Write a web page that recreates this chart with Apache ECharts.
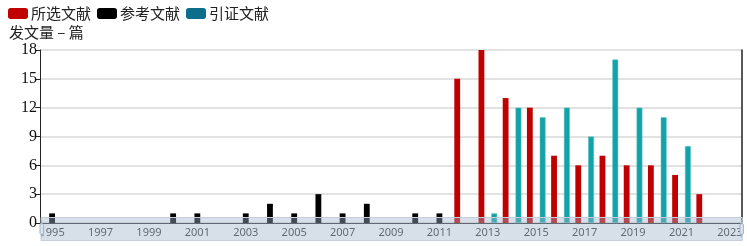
<!DOCTYPE html>
<html>
<head>
<meta charset="utf-8">
<script src="https://cdn.jsdelivr.net/npm/echarts@6/dist/echarts.min.js"></script>
<style>
html,body{margin:0;padding:0;background:#fff;}
#c{width:747px;height:246px;}
</style>
</head>
<body>
<div id="c"></div>
<script>
var years = ["1995","1996","1997","1998","1999","2000","2001","2002","2003","2004","2005","2006","2007","2008","2009","2010","2011","2012","2013","2014","2015","2016","2017","2018","2019","2020","2021","2022","2023"];
var seriesNames = ["所选文献","参考文献","引证文献"];
var selected = [null,null,null,null,null,null,null,null,null,null,null,null,null,null,null,null,null,15,18,13,12,7,6,7,6,6,5,3,null];
var references = [1,null,null,null,null,1,1,null,1,2,1,3,1,2,null,1,1,null,null,null,null,null,null,null,null,null,null,null,null];
var citations = [null,null,null,null,null,null,null,null,null,null,null,null,null,null,null,null,null,null,1,12,11,12,9,17,12,11,8,null,null];
var yTicks = [0,3,6,9,12,15,18];
var yName = "发文量 – 篇";

var chart = echarts.init(document.getElementById('c'), null, {renderer:'canvas'});
var cjk = '"Noto Sans CJK SC", sans-serif';
chart.setOption({
  animation:false,
  backgroundColor:'#fff',
  title:{text:yName,left:4,top:20,textStyle:{fontFamily:cjk,fontSize:15,fontWeight:'normal',color:'#222'}},
  legend:{
    left:3, top:1, itemWidth:20, itemHeight:11, itemGap:6, icon:'roundRect',
    textStyle:{fontFamily:cjk,fontSize:15,color:'#222',padding:[0,0,0,-2]},
    data:[
      {name:seriesNames[0],itemStyle:{color:'#c00000',borderWidth:0}},
      {name:seriesNames[1],itemStyle:{color:'#000000',borderWidth:0}},
      {name:seriesNames[2],itemStyle:{color:'#0c6e8a',borderColor:'#0c6e8a',borderWidth:0}}
    ]
  },
  grid:{left:40,right:5,top:50,bottom:23,containLabel:false},
  xAxis:{
    type:'category', data:years, boundaryGap:true,
    axisLine:{lineStyle:{color:'#333'}},
    axisTick:{interval:1,length:4,lineStyle:{color:'#333'}},
    axisLabel:{interval:1,margin:4,fontFamily:'"Noto Sans", sans-serif',fontSize:11,color:'#333'}
  },
  yAxis:[{
    type:'value', min:yTicks[0], max:yTicks[yTicks.length-1], interval:3,
    axisLine:{show:true,lineStyle:{color:'#222'}},
    axisTick:{show:true,length:5,lineStyle:{color:'#222'}},
    axisLabel:{margin:3,fontFamily:'"Liberation Serif", serif',fontSize:16,color:'#111'},
    splitLine:{lineStyle:{color:'#d9d9d9',width:1.5}}
  },{
    type:'value', position:'right', min:0, max:18, interval:3,
    axisLine:{show:true,lineStyle:{color:'#222',width:1.5}},
    axisTick:{show:false}, axisLabel:{show:false}, splitLine:{show:false}
  }],
  dataZoom:[{
    type:'slider', xAxisIndex:0, left:40, right:5, top:217, height:24,
    start:0, end:100, showDataShadow:false, showDetail:false, brushSelect:false,
    moveHandleSize:0,
    backgroundColor:'rgba(0,0,0,0)',
    fillerColor:'rgba(160,178,202,0.42)',
    borderColor:'#c5cfdc',
    handleSize:'70%',
    handleStyle:{color:'#dfe6ee',borderColor:'#9fb2c8'}
  }],
  series:[
    {name:seriesNames[0],type:'bar',data:selected,itemStyle:{color:'#c00000'}},
    {name:seriesNames[1],type:'bar',data:references,itemStyle:{color:'#000000'}},
    {name:seriesNames[2],type:'bar',data:citations,itemStyle:{color:'#14a2a9',borderColor:'#5cc4c8',borderWidth:0.5}}
  ]
});
</script>
</body>
</html>
